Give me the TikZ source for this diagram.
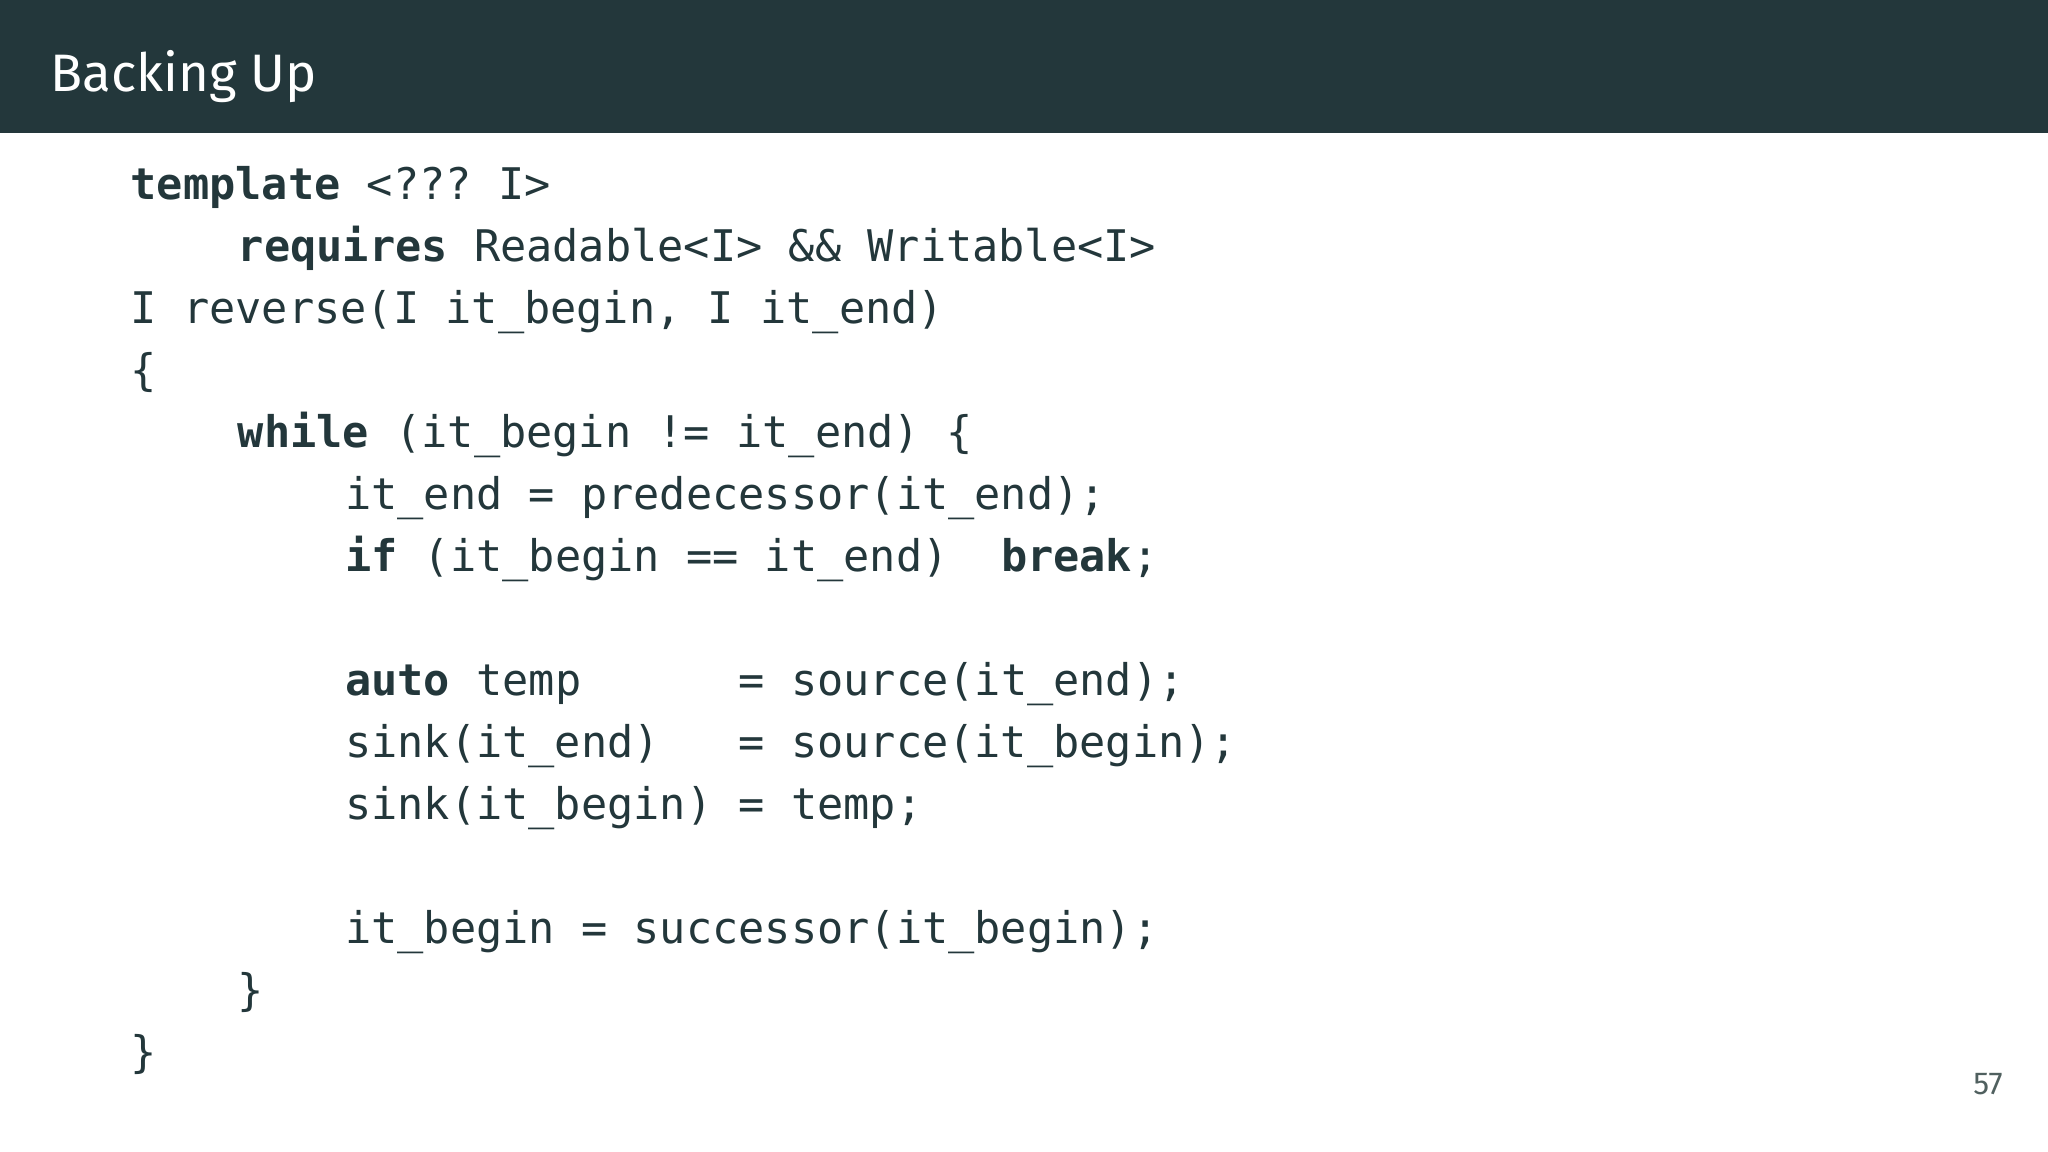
\documentclass[tikz,border=0pt]{standalone}
\usepackage{fontspec}
\setmainfont{Fira Sans}
\setmonofont{DejaVu Sans Mono}
\definecolor{mdark}{HTML}{23373B}
\definecolor{mgrey}{HTML}{50605F}
\begin{document}
\begin{tikzpicture}[x=1cm,y=1cm,
  code/.style={anchor=base west,inner sep=0pt,text=mdark,font=\ttfamily\fontsize{12.4}{14}\selectfont}]
\useasboundingbox (0,0) rectangle (20.48,11.52);
\fill[white] (0,0) rectangle (20.48,11.52);
\fill[mdark] (0,10.19) rectangle (20.48,11.52);
\node[anchor=base west,inner sep=0pt,text=white,font=\fontsize{15}{18}\selectfont] (title) at (0.50,10.60) {Backing Up};
\def\cw{0.268}
\def\xo{1.30}
\node[code] (l1) at (\xo,11.52-2.00) {\textbf{template} <??? I>};
\node[code] (l2) at (\xo+4*\cw,11.52-2.62) {\textbf{requires} Readable<I> \&\& Writable<I>};
\node[code] (l3) at (\xo,11.52-3.24) {I reverse(I it\_begin, I it\_end)};
\node[code] (l4) at (\xo,11.52-3.86) {\{};
\node[code] (l5) at (\xo+4*\cw,11.52-4.48) {\textbf{while} (it\_begin != it\_end) \{};
\node[code] (l6) at (\xo+8*\cw,11.52-5.10) {it\_end = predecessor(it\_end);};
\node[code] (l7) at (\xo+8*\cw,11.52-5.72) {\textbf{if} (it\_begin == it\_end)~~\textbf{break};};
\node[code] (l8) at (\xo+8*\cw,11.52-6.96) {\textbf{auto} temp~~~~~~= source(it\_end);};
\node[code] (l9) at (\xo+8*\cw,11.52-7.58) {sink(it\_end)~~~= source(it\_begin);};
\node[code] (l10) at (\xo+8*\cw,11.52-8.20) {sink(it\_begin) = temp;};
\node[code] (l11) at (\xo+8*\cw,11.52-9.44) {it\_begin = successor(it\_begin);};
\node[code] (l12) at (\xo+4*\cw,11.52-10.06) {\}};
\node[code] (l13) at (\xo,11.52-10.68) {\}};
\node[text=mgrey,font=\fontsize{9}{11}\selectfont,inner sep=0pt] (pg) at (19.88,0.68) {57};
\end{tikzpicture}
\end{document}
